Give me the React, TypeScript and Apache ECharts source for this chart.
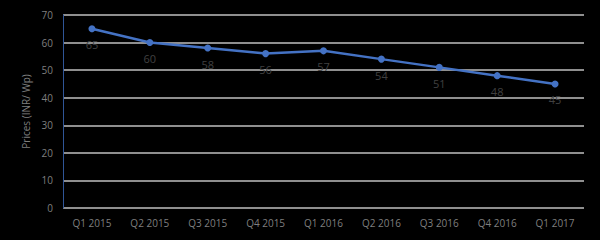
import React, { useEffect, useRef } from "react";
import * as echarts from "echarts";

const categories = ["Q1 2015", "Q2 2015", "Q3 2015", "Q4 2015", "Q1 2016", "Q2 2016", "Q3 2016", "Q4 2016", "Q1 2017"];
const prices = [65, 60, 58, 56, 57, 54, 51, 48, 45];
const yAxisName = "Prices (INR/ Wp)";

export default function App() {
  const ref = useRef<HTMLDivElement>(null);
  useEffect(() => {
    const chart = echarts.init(ref.current!, null, { renderer: "svg" });
    chart.setOption({
      animation: false,
      backgroundColor: "#000000",
      textStyle: { fontFamily: "Open Sans" },
      grid: { left: 63, right: 16, top: 15, bottom: 32 },
      xAxis: {
        type: "category",
        data: categories,
        boundaryGap: true,
        axisLine: { show: false },
        axisTick: { show: false },
        axisLabel: { color: "#7f7f7f", fontSize: 10, margin: 10 },
      },
      yAxis: {
        type: "value",
        min: 0,
        max: 70,
        interval: 10,
        name: yAxisName,
        nameLocation: "middle",
        nameGap: 32,
        nameTextStyle: { color: "#7f7f7f", fontSize: 10 },
        axisLine: { show: true, lineStyle: { color: "#2f5597", width: 1 } },
        axisTick: { show: false },
        axisLabel: { color: "#7f7f7f", fontSize: 10, margin: 10 },
        splitLine: { lineStyle: { color: "#bfbfbf", width: 1.5 } },
      },
      series: [
        {
          type: "line",
          data: prices,
          symbol: "circle",
          symbolSize: 7,
          lineStyle: { color: "#4472c4", width: 2.5 },
          itemStyle: { color: "#4472c4" },
          label: {
            show: true,
            position: "bottom",
            distance: 7,
            color: "#404040",
            fontSize: 11,
          },
        },
      ],
    });
    return () => chart.dispose();
  }, []);
  return <div ref={ref} style={{ width: 600, height: 240, position: "absolute", left: 0, top: 0 }} />;
}
